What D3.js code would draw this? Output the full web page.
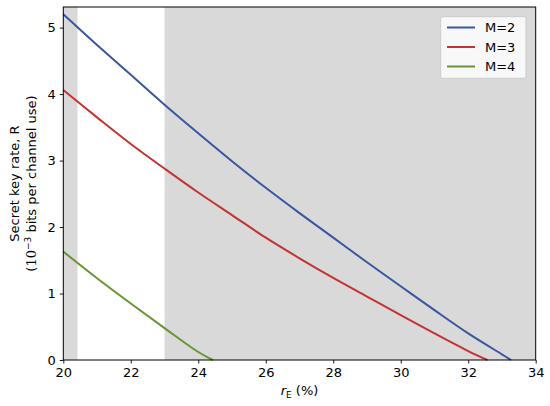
<!DOCTYPE html>
<html>
<head>
<meta charset="utf-8">
<script src="https://cdn.jsdelivr.net/npm/d3@7"></script>
<style>
  body { margin: 0; background: #fff; }
  text { font-family: "DejaVu Sans", sans-serif; }
</style>
</head>
<body>
<svg id="chart" width="550" height="406"></svg>
<script>
// values
var rE_M2 = [20, 21, 22, 23, 24, 25, 26, 27, 28, 29, 30, 31, 32, 33, 33.27];
var R_M2 = [5.20, 4.74, 4.29, 3.84, 3.41, 2.99, 2.59, 2.21, 1.84, 1.47, 1.11, 0.75, 0.40, 0.085, 0];
var rE_M3 = [20, 21, 22, 23, 24, 25, 26, 27, 28, 29, 30, 31, 32, 32.57];
var R_M3 = [4.06, 3.65, 3.25, 2.88, 2.52, 2.18, 1.84, 1.53, 1.235, 0.955, 0.675, 0.40, 0.135, 0];
var rE_M4 = [20, 21, 22, 23, 24, 24.43];
var R_M4 = [1.63, 1.23, 0.85, 0.48, 0.12, 0];
var seriesNames = ["M=2", "M=3", "M=4"];
var seriesColors = ["#3b56a0", "#c23431", "#6a9535"];
var shadedSpans = [[20, 20.42], [23, 34]];
var xTicks = [20, 22, 24, 26, 28, 30, 32, 34];
var yTicks = [0, 1, 2, 3, 4, 5];

var series = [
    { name: seriesNames[0], color: seriesColors[0], x: rE_M2, y: R_M2 },
    { name: seriesNames[1], color: seriesColors[1], x: rE_M3, y: R_M3 },
    { name: seriesNames[2], color: seriesColors[2], x: rE_M4, y: R_M4 }
];

var svg = d3.select("#chart");
// plot area edges (window.top is reserved, so prefixed names)
var pLeft = 63.3, pRight = 535.7, pTop = 7, pBottom = 360;

var xScale = d3.scaleLinear().domain([20, 34]).range([pLeft, pRight]);
var yScale = d3.scaleLinear().domain([0, 5.31]).range([pBottom, pTop]);

// shaded regions
svg.append("g").selectAll("rect")
    .data(shadedSpans)
    .enter().append("rect")
    .attr("x", function (d) { return xScale(d[0]); })
    .attr("y", pTop)
    .attr("width", function (d) { return xScale(d[1]) - xScale(d[0]); })
    .attr("height", pBottom - pTop)
    .attr("fill", "#d9d9d9");

var line = d3.line()
    .x(function (d) { return xScale(d[0]); })
    .y(function (d) { return yScale(d[1]); })
    .curve(d3.curveCatmullRom.alpha(0.5));

svg.append("g").selectAll("path")
    .data(series)
    .enter().append("path")
    .attr("d", function (s) { return line(d3.zip(s.x, s.y)); })
    .attr("fill", "none")
    .attr("stroke", function (s) { return s.color; })
    .attr("stroke-width", 2);

// axes
var xAxis = svg.append("g")
    .attr("transform", "translate(0," + pBottom + ")")
    .call(d3.axisBottom(xScale).tickValues(xTicks).tickSize(3.5).tickPadding(4).tickFormat(d3.format("d")));
var yAxis = svg.append("g")
    .attr("transform", "translate(" + pLeft + ",0)")
    .call(d3.axisLeft(yScale).tickValues(yTicks).tickSize(3.5).tickPadding(4).tickFormat(d3.format("d")));

[xAxis, yAxis].forEach(function (ax) {
    ax.select(".domain").remove();
    ax.selectAll("line").attr("stroke", "#000").attr("stroke-width", 0.9);
    ax.selectAll("text").attr("font-size", 13).attr("fill", "#000")
        .attr("font-family", "DejaVu Sans");
});

// frame
svg.append("rect")
    .attr("x", pLeft).attr("y", pTop)
    .attr("width", pRight - pLeft).attr("height", pBottom - pTop)
    .attr("fill", "none").attr("stroke", "#000").attr("stroke-width", 1);

// axis labels
var xl = svg.append("text")
    .attr("x", (pLeft + pRight) / 2).attr("y", 395)
    .attr("text-anchor", "middle").attr("font-size", 13);
xl.append("tspan").attr("font-style", "italic").text("r");
xl.append("tspan").attr("font-size", 9).attr("dy", 3).text("E");
xl.append("tspan").attr("dy", -3).text(" (%)");

var cy = (pTop + pBottom) / 2;
svg.append("text")
    .attr("transform", "translate(19," + cy + ") rotate(-90)")
    .attr("text-anchor", "middle").attr("font-size", 13)
    .text("Secret key rate, R");
var yl2 = svg.append("text")
    .attr("transform", "translate(36," + cy + ") rotate(-90)")
    .attr("text-anchor", "middle").attr("font-size", 13);
yl2.append("tspan").text("(");
yl2.append("tspan").attr("font-family", "DejaVu Serif").text("10");
yl2.append("tspan").attr("font-size", 9).attr("dy", -5).text("\u22123");
yl2.append("tspan").attr("dy", 5).text(" bits per channel use)");

// legend
var legend = svg.append("g");
legend.append("rect")
    .attr("x", 440.7).attr("y", 16.7).attr("width", 85.3).attr("height", 61.6)
    .attr("rx", 2).attr("fill", "#fff").attr("fill-opacity", 0.8)
    .attr("stroke", "#cccccc").attr("stroke-width", 1);
var items = legend.selectAll("g.item")
    .data(series)
    .enter().append("g")
    .attr("class", "item")
    .attr("transform", function (d, i) { return "translate(0," + (27.5 + i * 19.5) + ")"; });
items.append("line")
    .attr("x1", 447).attr("x2", 475)
    .attr("stroke", function (d) { return d.color; })
    .attr("stroke-width", 2);
items.append("text")
    .attr("x", 485).attr("y", 4.6)
    .attr("font-size", 13)
    .text(function (d) { return d.name; });
</script>
</body>
</html>
